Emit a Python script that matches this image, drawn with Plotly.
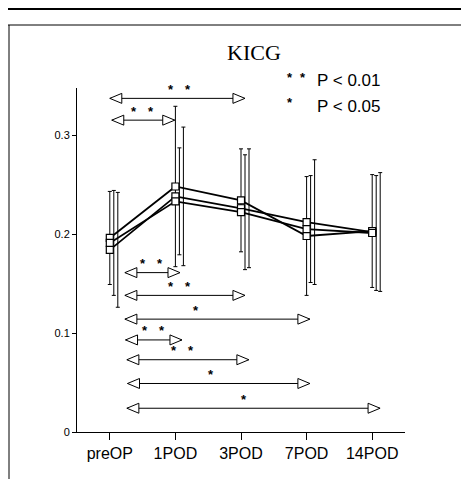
import plotly.graph_objects as go

# KICG time course for three groups, mean and SD
categories = ["preOP", "1POD", "3POD", "7POD", "14POD"]
kicg_a = [0.184, 0.238, 0.226, 0.212, 0.202]
kicg_b = [0.196, 0.248, 0.234, 0.198, 0.203]
kicg_c = [0.191, 0.233, 0.222, 0.205, 0.201]
sd_a = [0.058, 0.070, 0.060, 0.063, 0.060]
sd_b = [0.047, 0.081, 0.052, 0.060, 0.057]
sd_c = [0.053, 0.054, 0.058, 0.054, 0.058]

# pairwise comparisons: start/end time point, bracket level, significance mark
cmp_from = [0.00, 0.03, 0.23, 0.23, 0.23, 0.24, 0.26, 0.27, 0.26]
cmp_to = [2.06, 0.99, 1.07, 2.06, 3.05, 1.10, 2.12, 3.05, 4.12]
cmp_level = [0.337, 0.315, 0.161, 0.138, 0.114, 0.093, 0.073, 0.049, 0.024]
cmp_mark = ["**", "**", "**", "**", "*", "**", "**", "*", "*"]
cmp_mark_x = [1.06, 0.50, 0.64, 1.07, 1.31, 0.67, 1.11, 1.54, 2.05]

y_ticks = [0, 0.1, 0.2, 0.3]
y_tick_text = ["0", "0.1", "0.2", "0.3"]

# page geometry (pixels)
W, H = 461, 479
L, R, T, B = 77, 405, 88, 432
PX_PER_UNIT = (R - L) / 5.0


def paper_x(px):
    return (px - L) / (R - L)


def paper_y(py):
    return (B - py) / (B - T)


xs = list(range(len(categories)))
fig = go.Figure()

# SD bars, drawn slightly apart so the three groups stay readable
groups = [(kicg_a, sd_a, 8), (kicg_b, sd_b, 0), (kicg_c, sd_c, 4)]
for vals, sds, off in groups:
    fig.add_trace(go.Scatter(
        x=[x + off / PX_PER_UNIT for x in xs], y=vals, mode="markers",
        marker=dict(size=1, color="rgba(0,0,0,0)"),
        error_y=dict(type="data", array=sds, visible=True,
                     color="black", thickness=1, width=2),
        hoverinfo="skip", showlegend=False,
    ))

for vals, sds, off in groups:
    fig.add_trace(go.Scatter(
        x=xs, y=vals, mode="lines+markers",
        line=dict(color="black", width=1.8),
        marker=dict(symbol="square", size=7, color="white",
                    line=dict(color="black", width=1.2)),
        showlegend=False,
    ))

shapes = []
annotations = []
HEAD_L, HEAD_H = 12, 5
for x0, x1, lv, mk, mx in zip(cmp_from, cmp_to, cmp_level, cmp_mark, cmp_mark_x):
    shapes.append(dict(type="line", xref="x", yref="y", x0=x0, x1=x1, y0=lv, y1=lv,
                       line=dict(color="black", width=1)))
    shapes.append(dict(type="path", xref="x", yref="y",
                       xsizemode="pixel", ysizemode="pixel", xanchor=x0, yanchor=lv,
                       path=f"M0,0 L{HEAD_L},{HEAD_H} L{HEAD_L},{-HEAD_H} Z",
                       fillcolor="white", line=dict(color="black", width=1)))
    shapes.append(dict(type="path", xref="x", yref="y",
                       xsizemode="pixel", ysizemode="pixel", xanchor=x1, yanchor=lv,
                       path=f"M0,0 L{-HEAD_L},{HEAD_H} L{-HEAD_L},{-HEAD_H} Z",
                       fillcolor="white", line=dict(color="black", width=1)))
    shifts = [0] if mk == "*" else [-8.5, 8.5]
    for s in shifts:
        annotations.append(dict(x=mx, y=lv, xref="x", yref="y", text="<b>*</b>",
                                showarrow=False, xshift=s, yshift=9,
                                font=dict(family="Liberation Sans", size=13, color="black")))

# title and significance key
annotations.append(dict(x=paper_x(254), y=paper_y(52), xref="paper", yref="paper",
                        text="KICG", showarrow=False, xanchor="center", yanchor="middle",
                        font=dict(family="Liberation Serif", size=22, color="black")))
for px in (290, 303):
    annotations.append(dict(x=paper_x(px), y=paper_y(78), xref="paper", yref="paper",
                            text="<b>*</b>", showarrow=False, xanchor="center", yanchor="middle",
                            font=dict(family="Liberation Sans", size=13, color="black")))
annotations.append(dict(x=paper_x(290), y=paper_y(103), xref="paper", yref="paper",
                        text="<b>*</b>", showarrow=False, xanchor="center", yanchor="middle",
                        font=dict(family="Liberation Sans", size=13, color="black")))
annotations.append(dict(x=paper_x(315), y=paper_y(81), xref="paper", yref="paper",
                        text="P < 0.01", showarrow=False, xanchor="left", yanchor="middle",
                        font=dict(family="Liberation Sans", size=17, color="black")))
annotations.append(dict(x=paper_x(315), y=paper_y(106), xref="paper", yref="paper",
                        text="P < 0.05", showarrow=False, xanchor="left", yanchor="middle",
                        font=dict(family="Liberation Sans", size=17, color="black")))

# page frame: double rule on top, single rule down the left
shapes.append(dict(type="line", xref="paper", yref="paper",
                   x0=paper_x(8), x1=paper_x(W), y0=paper_y(9), y1=paper_y(9),
                   line=dict(color="black", width=2)))
shapes.append(dict(type="line", xref="paper", yref="paper",
                   x0=paper_x(8), x1=paper_x(W), y0=paper_y(25), y1=paper_y(25),
                   line=dict(color="black", width=1)))
shapes.append(dict(type="line", xref="paper", yref="paper",
                   x0=paper_x(9), x1=paper_x(9), y0=paper_y(25), y1=paper_y(H),
                   line=dict(color="black", width=1)))

fig.update_layout(
    width=W, height=H,
    margin=dict(l=L, r=W - R, t=T, b=H - B),
    paper_bgcolor="white", plot_bgcolor="white",
    shapes=shapes, annotations=annotations,
    showlegend=False,
    xaxis=dict(range=[-0.5, 4.5], tickvals=xs, ticktext=categories,
               showgrid=False, zeroline=False, showline=True, linecolor="black",
               linewidth=1, ticks="outside", ticklen=7, tickcolor="black",
               tickfont=dict(family="Liberation Sans", size=16, color="black")),
    yaxis=dict(range=[0, (B - T) / 990.0], tickvals=y_ticks, ticktext=y_tick_text,
               showgrid=False, zeroline=False, showline=True, linecolor="black",
               linewidth=1, ticks="outside", ticklen=4, tickcolor="black",
               tickfont=dict(family="Liberation Sans", size=11, color="black")),
)

fig.write_html("out.html")
